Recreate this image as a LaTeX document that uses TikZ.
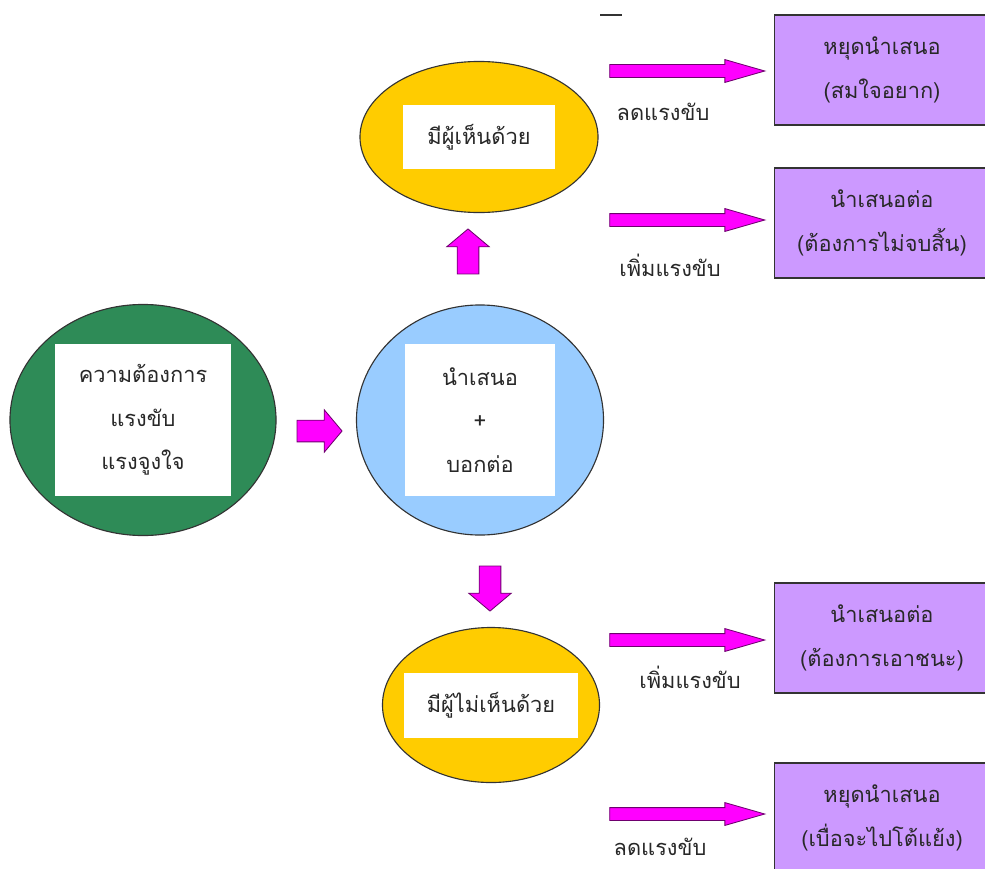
\documentclass[tikz,border=0pt]{standalone}
\usepackage{fontspec}
\newfontfamily\thai[Script=Thai]{Loma}
\usetikzlibrary{shapes.geometric,shapes.arrows}
\definecolor{seagreen}{RGB}{46,139,87}
\definecolor{skyblue}{RGB}{153,204,255}
\definecolor{gold}{RGB}{255,204,0}
\definecolor{lilac}{RGB}{204,153,255}
\definecolor{pink}{RGB}{255,0,255}
\definecolor{plum}{RGB}{110,0,110}
\definecolor{ink}{RGB}{40,40,40}

\begin{document}
\begin{tikzpicture}[x=0.025cm, y=-0.025cm,
  font=\thai\fontsize{15.5}{31}\selectfont, text=ink,
  bubble/.style={ellipse, draw=black!80, line width=0.8pt, inner sep=0pt},
  inbox/.style={fill=white, inner sep=0pt, align=center},
  result/.style={draw=black!80, line width=0.8pt, fill=lilac, align=center, minimum width=5.375cm, minimum height=2.75cm},
  push/.style={single arrow, draw=plum, fill=pink, line width=0.6pt, inner xsep=0pt, minimum height=3.875cm, inner ysep=0.15cm, single arrow head extend=0.125cm, single arrow tip angle=32},
  nudge/.style={single arrow, draw=plum, fill=pink, line width=0.6pt, inner xsep=0pt, minimum height=1.125cm, inner ysep=0.26cm, single arrow head extend=0.26cm, single arrow tip angle=100}]
\useasboundingbox (0,0) rectangle (985,868);
\clip (0,0) rectangle (985,868);

% bubbles
\node[bubble, fill=seagreen, minimum width=6.65cm, minimum height=5.775cm, name=need] at (143,420) {};
\node[inbox, minimum width=4.375cm, minimum height=3.775cm, name=needtxt] at (need) {ความต้องการ\\แรงขับ\\แรงจูงใจ};

\node[bubble, fill=skyblue, minimum width=6.175cm, minimum height=5.75cm, name=offer] at (480,420) {};
\node[inbox, minimum width=3.75cm, minimum height=3.8cm, name=offertxt] at (offer) {นำเสนอ\\+\\บอกต่อ};

\node[bubble, fill=gold, minimum width=5.95cm, minimum height=3.775cm, name=agree] at (479,137) {};
\node[inbox, minimum width=3.8cm, minimum height=1.575cm, name=agreetxt] at (agree) {มีผู้เห็นด้วย};

\node[bubble, fill=gold, minimum width=5.425cm, minimum height=3.875cm, name=disagree] at (491,705) {};
\node[inbox, minimum width=4.35cm, minimum height=1.625cm, name=disagreetxt] at (disagree) {มีผู้ไม่เห็นด้วย};

% block arrows
\node[nudge, name=go] at (315,431) {};
\node[nudge, rotate=90, name=up] at (468,256) {};
\node[nudge, rotate=-90, name=down] at (490,584) {};

\node[push, name=a1] at (676,71) {};
\node[push, name=a2] at (676,220) {};
\node[push, name=a3] at (676,640) {};
\node[push, name=a4] at (676,814) {};

\node[name=l1] at (663,112) {ลดแรงขับ};
\node[name=l2] at (670,265) {เพิ่มแรงขับ};
\node[name=l3] at (690,677) {เพิ่มแรงขับ};
\node[name=l4] at (660,847) {ลดแรงขับ};

% results
\node[result, name=r1] at (882,70) {หยุดนำเสนอ\\(สมใจอยาก)};
\node[result, name=r2] at (882,223) {นำเสนอต่อ\\(ต้องการไม่จบสิ้น)};
\node[result, name=r3] at (882,638) {นำเสนอต่อ\\(ต้องการเอาชนะ)};
\node[result, name=r4] at (882,818) {หยุดนำเสนอ\\(เบื่อจะไปโต้แย้ง)};

\draw[black!80, line width=0.8pt] (600,15) -- (622,15);
\end{tikzpicture}
\end{document}
